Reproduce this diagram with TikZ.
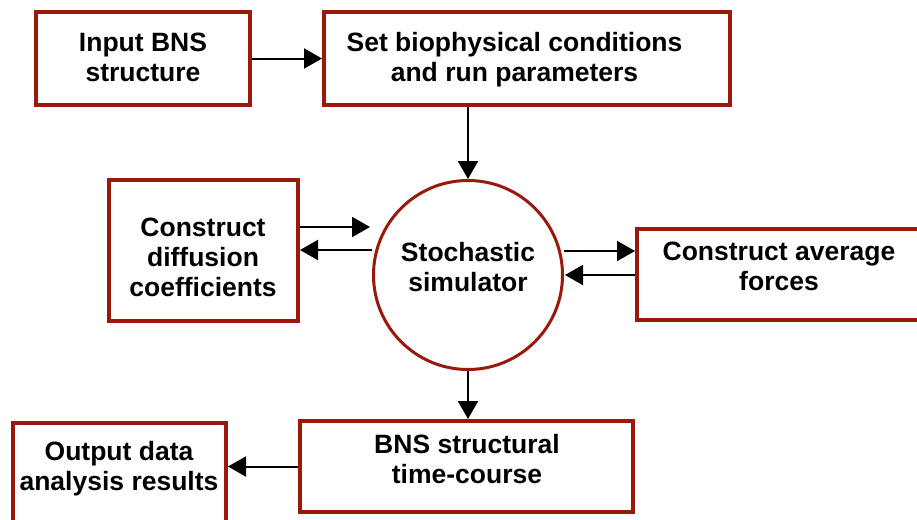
\documentclass[tikz,border=0pt]{standalone}
\usepackage{fontspec}
\setmainfont{Liberation Sans}
\usetikzlibrary{arrows.meta}
\definecolor{boxred}{RGB}{153,26,12}
\begin{document}
\begin{tikzpicture}[x=1pt,y=-1pt,
  box/.style={draw=boxred, line width=4pt, rectangle, inner sep=0pt},
  circ/.style={draw=boxred, line width=3pt, circle, inner sep=0pt, minimum size=189pt},
  lbl/.style={font=\fontsize{26.5}{30}\selectfont\bfseries, align=center, text depth=0pt, inner sep=0pt},
  arr/.style={line width=2pt, -{Triangle[length=18pt,width=20pt]}}]
\fill[white] (0,0) rectangle (917,519);
\clip (0,0) rectangle (917,519);
\useasboundingbox (0,0) rectangle (917,519);

% boxes
\node[box, minimum width=214pt, minimum height=93pt] (b1) at (143,58.5) {};
\node[lbl] (t1) at (143,57) {Input BNS\\structure};

\node[box, minimum width=406pt, minimum height=93pt] (b2) at (527,58.5) {};
\node[lbl] (t2) at (514.5,57) {Set biophysical conditions\\and run parameters};

\node[box, minimum width=189pt, minimum height=141pt] (b3) at (203.5,250.5) {};
\node[lbl] (t3) at (203,257.5) {Construct\\diffusion\\coefficients};

\node[box, minimum width=284pt, minimum height=91pt] (b4) at (779,274.5) {};
\node[lbl] (t4) at (779,266.5) {Construct average\\forces};

\node[circ] (sim) at (468,275) {};
\node[lbl] (tsim) at (468,267) {Stochastic\\simulator};

\node[box, minimum width=333pt, minimum height=91pt] (b5) at (466.5,466.5) {};
\node[lbl] (t5) at (467,458.5) {BNS structural\\time-course};

\node[box, minimum width=213pt, minimum height=140pt, anchor=north] (b6) at (119.5,421) {};
\node[lbl] (t6) at (119,465.5) {Output data\\analysis results};

% connectors
\draw[arr] (b1.east) -- (b2.west);
\draw[arr] (b2.south -| sim.north) -- (sim.north);
\coordinate (c3) at (370,227);
\draw[arr] (b3.east |- c3) -- (c3);
\coordinate (c4) at (372,250);
\draw[arr] (c4) -- (b3.east |- c4);
\coordinate (c5) at (564,251);
\draw[arr] (c5) -- (b4.west |- c5);
\coordinate (c6) at (565,275);
\draw[arr] (b4.west |- c6) -- (c6);
\draw[arr] (sim.south) -- (sim.south |- b5.north);
\draw[arr] (b5.west) -- (b5.west -| b6.east);
\end{tikzpicture}
\end{document}
